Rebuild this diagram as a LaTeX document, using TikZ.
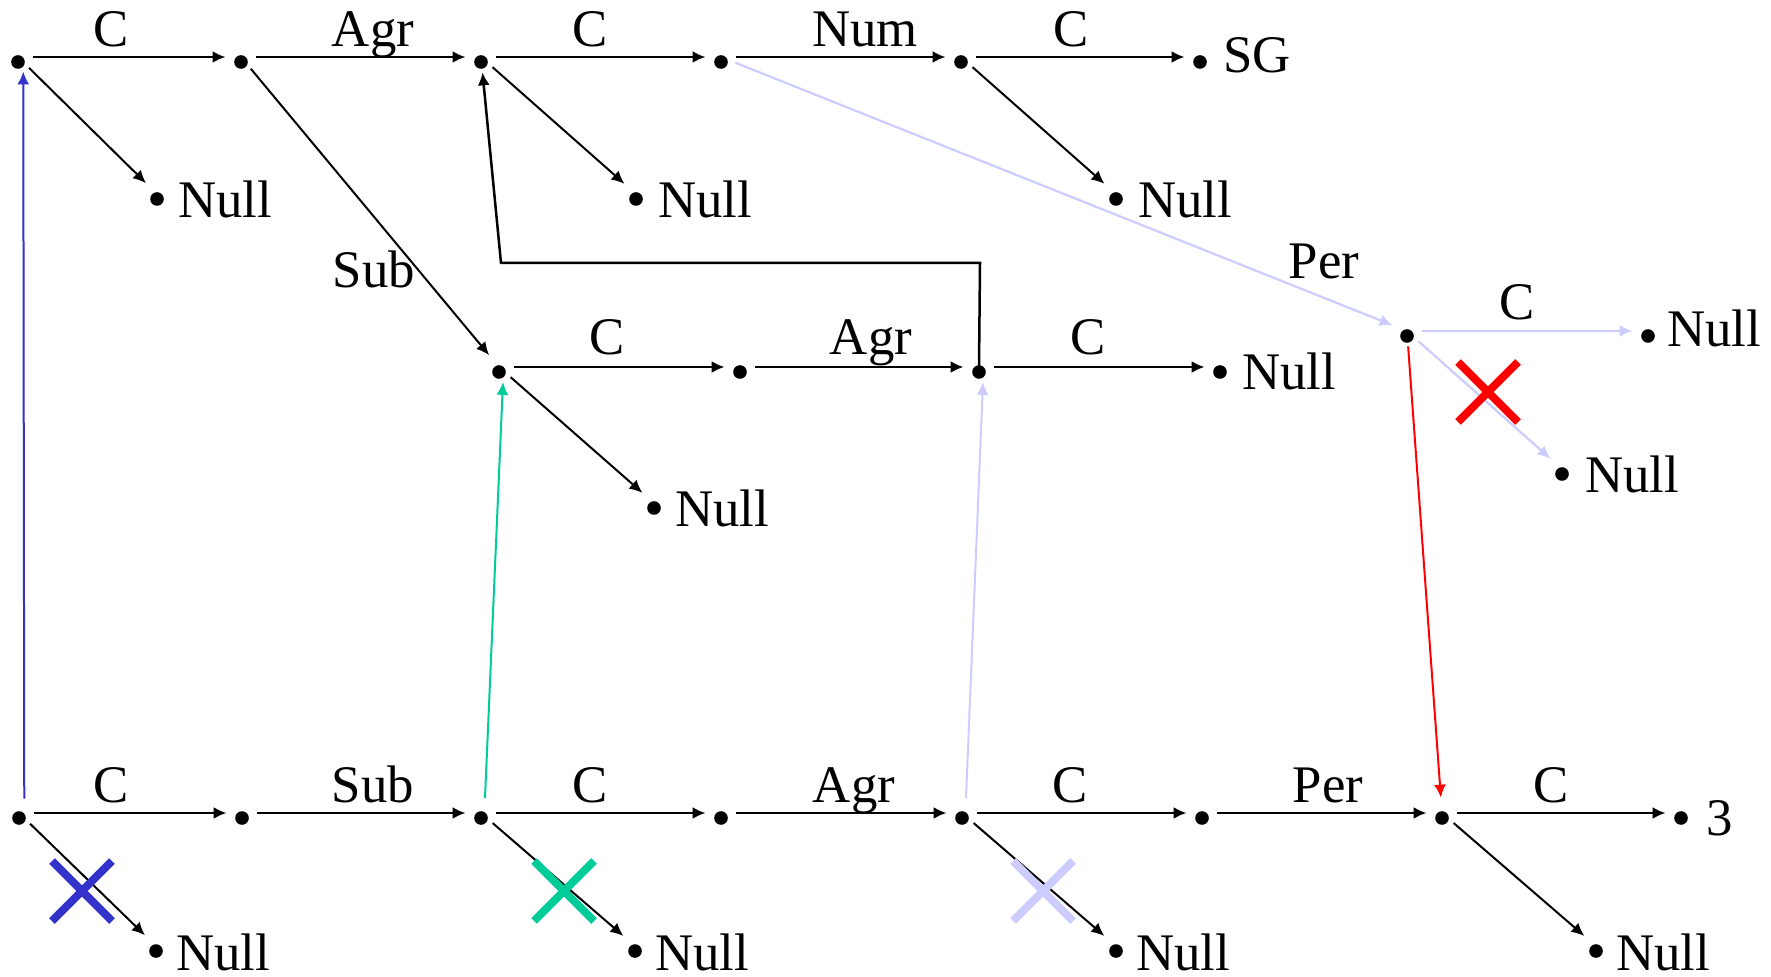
\documentclass[tikz,border=0pt]{standalone}
\usepackage{fontspec}
\setmainfont{Liberation Serif}
\usetikzlibrary{arrows.meta,shapes.misc}

\definecolor{fstblue}{RGB}{51,51,204}
\definecolor{fstteal}{RGB}{0,204,153}
\definecolor{fstlav}{RGB}{204,204,255}
\definecolor{fstred}{RGB}{255,0,0}

\newcommand\fstfont{\fontsize{26.4pt}{30pt}\selectfont}

\tikzset{
  state/.style={circle, inner sep=0pt, minimum size=15pt,
    path picture={\fill ([yshift=-2.5pt]path picture bounding box.center) circle (3.4pt);}},
  lbl/.style={inner sep=0pt, anchor=base, font=\fstfont},
  outtxt/.style={inner sep=0pt, anchor=base west, font=\fstfont},
  arc/.style={-{Latex[length=6.5pt,width=6pt]}, line width=1.4pt},
  nul/.style={-{Latex[length=6.5pt,width=6pt]}, line width=1pt},
  veto/.style={cross out, line width=4pt, minimum size=26pt, inner sep=0pt},
}

\begin{document}
\begin{tikzpicture}[x=0.5pt,y=-0.5pt]
\useasboundingbox (0,0) rectangle (1771,977);

% ---- top machine: C Agr C Num C -> SG
\node[state] (T1) at (18,57) {};
\node[state] (T2) at (241,57) {};
\node[state] (T3) at (481,57) {};
\node[state] (T4) at (721,57) {};
\node[state] (T5) at (961,57) {};
\node[state] (T6) at (1200,57) {};
\node[outtxt] (T6t) at (1223,73) {SG};

\node[state] (TN1) at (157,194) {};
\node[state] (TN2) at (636,194) {};
\node[state] (TN3) at (1116,194) {};
\node[outtxt] (TN1t) at (178,218) {Null};
\node[outtxt] (TN2t) at (658,218) {Null};
\node[outtxt] (TN3t) at (1138,218) {Null};

\draw[arc] (T1) -- (T2);
\draw[arc] (T2) -- (T3);
\draw[arc] (T3) -- (T4);
\draw[arc] (T4) -- (T5);
\draw[arc] (T5) -- (T6);
\node[lbl] (lt1) at (111,47) {C};
\node[lbl] (lt2) at (373,47) {Agr};
\node[lbl] (lt3) at (590,47) {C};
\node[lbl] (lt4) at (865,47) {Num};
\node[lbl] (lt5) at (1071,47) {C};

\draw[nul] (T1) -- (TN1);
\draw[nul] (T3) -- (TN2);
\draw[nul] (T5) -- (TN3);

% ---- middle machine: C Agr C -> Null
\node[state] (M1) at (499,367) {};
\node[state] (M2) at (740,367) {};
\node[state] (M3) at (979,367) {};
\node[state] (M4) at (1220,367) {};
\node[outtxt] (M4t) at (1242,390) {Null};
\node[state] (MN1) at (654,503) {};
\node[outtxt] (MN1t) at (675,527) {Null};

\draw[nul] (T2) -- (M1);
\node[lbl] (lsub) at (374,288) {Sub};

\draw[arc] (M1) -- (M2);
\draw[arc] (M2) -- (M3);
\draw[arc] (M3) -- (M4);
\node[lbl] (lm1) at (607,355) {C};
\node[lbl] (lm2) at (871,355) {Agr};
\node[lbl] (lm3) at (1088,355) {C};
\draw[nul] (M1) -- (MN1);

% return path from the middle machine to the top one
\coordinate (lc1) at (980,263);
\coordinate (lc2) at (501,263);
\draw[arc, line width=1.25pt] (M3.center) -- (lc1) -- (lc2) -- (T3);

% ---- person branch
\node[state] (P) at (1407,331) {};
\node[state] (PN1) at (1648,331) {};
\node[outtxt] (PN1t) at (1667,347) {Null};
\node[state] (PN2) at (1562,469) {};
\node[outtxt] (PN2t) at (1585,493) {Null};

\draw[nul, draw=fstlav, line width=1.1pt] (T4) -- (P);
\node[lbl] (lper) at (1324,279) {Per};
\draw[arc, draw=fstlav, line width=1.2pt] (P) -- (PN1);
\node[lbl] (lpc) at (1517,320) {C};
\draw[nul, draw=fstlav, line width=1.1pt] (P) -- (PN2);
\node[veto, draw=fstred] (x4) at (1488,392) {};

% ---- bottom machine: C Sub C Agr C Per C -> 3
\node[state] (B1) at (19,813) {};
\node[state] (B2) at (242,813) {};
\node[state] (B3) at (481,813) {};
\node[state] (B4) at (721,813) {};
\node[state] (B5) at (962,813) {};
\node[state] (B6) at (1202,813) {};
\node[state] (B7) at (1442,813) {};
\node[state] (B8) at (1681,813) {};
\node[outtxt] (B8t) at (1706,835) {3};

\node[state] (BN1) at (156,946) {};
\node[state] (BN2) at (635,946) {};
\node[state] (BN3) at (1116,946) {};
\node[state] (BN4) at (1596,946) {};
\node[outtxt] (BN1t) at (176,970) {Null};
\node[outtxt] (BN2t) at (655,970) {Null};
\node[outtxt] (BN3t) at (1136,970) {Null};
\node[outtxt] (BN4t) at (1616,970) {Null};

\draw[arc] (B1) -- (B2);
\draw[arc] (B2) -- (B3);
\draw[arc] (B3) -- (B4);
\draw[arc] (B4) -- (B5);
\draw[arc] (B5) -- (B6);
\draw[arc] (B6) -- (B7);
\draw[arc] (B7) -- (B8);
\node[lbl] (lb1) at (111,802) {C};
\node[lbl] (lb2) at (373,802) {Sub};
\node[lbl] (lb3) at (590,802) {C};
\node[lbl] (lb4) at (854,802) {Agr};
\node[lbl] (lb5) at (1070,802) {C};
\node[lbl] (lb6) at (1328,802) {Per};
\node[lbl] (lb7) at (1551,802) {C};

\draw[nul] (B1) -- (BN1);
\draw[nul] (B3) -- (BN2);
\draw[nul] (B5) -- (BN3);
\draw[nul] (B7) -- (BN4);

% blocked null exits
\node[veto, draw=fstblue] (x1) at (82,891) {};
\node[veto, draw=fstteal] (x2) at (564,891) {};
\node[veto, draw=fstlav] (x3) at (1043,891) {};

% ---- jumps between the machines
\draw[nul, draw=fstblue] (B1.70) -- (T1.290);
\draw[nul, draw=fstteal] (B3.75) -- (M1.285);
\draw[nul, draw=fstlav] (B5.75) -- (M3.285);
\draw[nul, draw=fstred] (P) -- (B7);

\end{tikzpicture}
\end{document}
